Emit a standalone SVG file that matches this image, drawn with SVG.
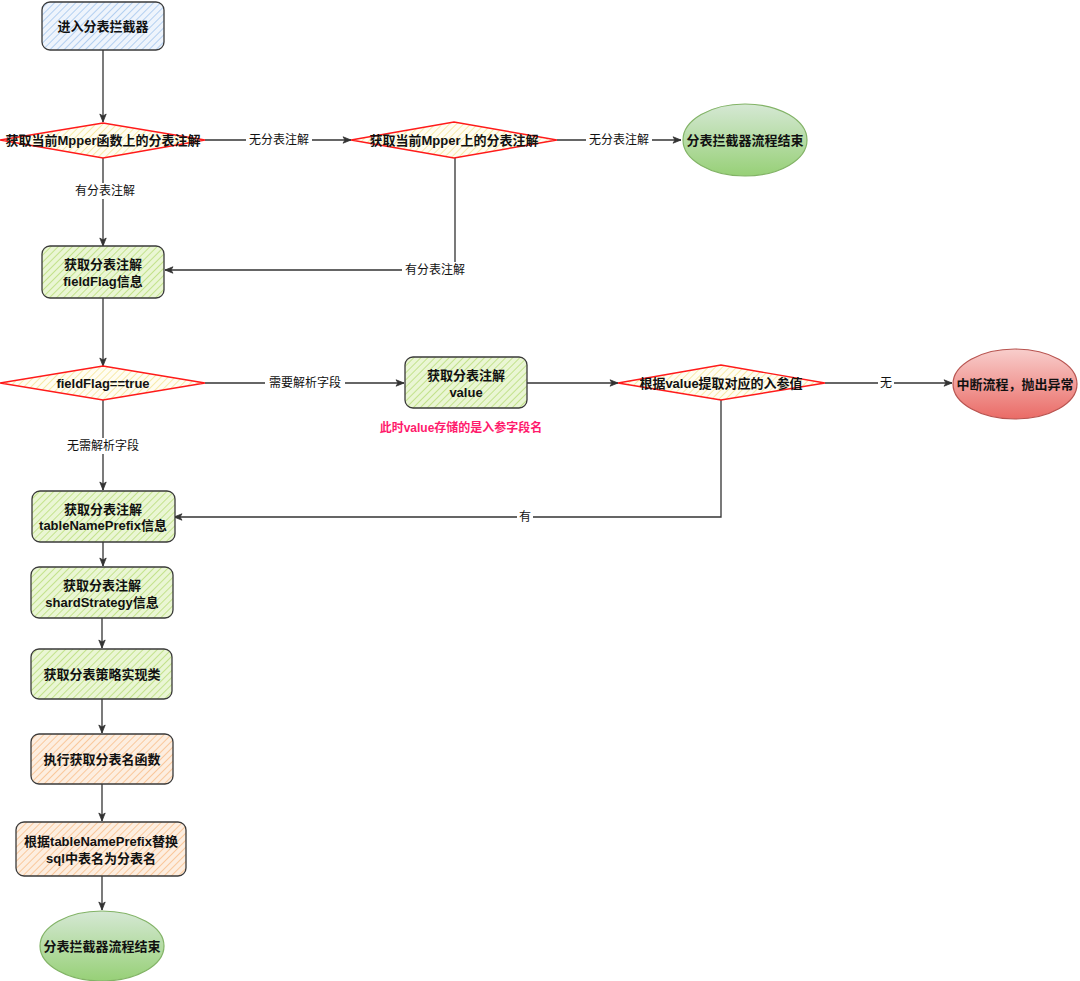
<svg xmlns="http://www.w3.org/2000/svg" width="1080" height="981" viewBox="0 0 1080 981">
<defs>
<pattern id="hBlue" width="5" height="5" patternUnits="userSpaceOnUse" patternTransform="rotate(45)"><rect width="5" height="5" fill="#eef4fc"/><line x1="0" y1="0" x2="0" y2="5" stroke="#b3cff0" stroke-width="2"/></pattern>
<pattern id="hGreen" width="5" height="5" patternUnits="userSpaceOnUse" patternTransform="rotate(45)"><rect width="5" height="5" fill="#eaf6d4"/><line x1="0" y1="0" x2="0" y2="5" stroke="#c3e28c" stroke-width="2"/></pattern>
<pattern id="hYellow" width="5" height="5" patternUnits="userSpaceOnUse" patternTransform="rotate(45)"><rect width="5" height="5" fill="#fffdf2"/><line x1="0" y1="0" x2="0" y2="5" stroke="#f7eaa8" stroke-width="2"/></pattern>
<pattern id="hOrange" width="5" height="5" patternUnits="userSpaceOnUse" patternTransform="rotate(45)"><rect width="5" height="5" fill="#fdeee0"/><line x1="0" y1="0" x2="0" y2="5" stroke="#f9c89c" stroke-width="2"/></pattern>
<linearGradient id="gGreen" x1="0" y1="0" x2="0" y2="1"><stop offset="0" stop-color="#d5e8d4"/><stop offset="1" stop-color="#97d077"/></linearGradient>
<linearGradient id="gRed" x1="0" y1="0" x2="0" y2="1"><stop offset="0" stop-color="#f8cecc"/><stop offset="1" stop-color="#ea6b66"/></linearGradient>
<marker id="arr" markerWidth="10" markerHeight="8" refX="9" refY="4" orient="auto" markerUnits="userSpaceOnUse"><path d="M1,0.8 L9,4 L1,7.2 L3,4 Z" fill="#333333" stroke="#333333" stroke-width="0.8"/></marker>
<style>
.box{stroke:#3a3a3a;stroke-width:1.3}
.dia{stroke:#ff1a1a;stroke-width:1.4}
.t{font-family:"Liberation Sans","Noto Sans CJK SC",sans-serif;font-size:13px;font-weight:bold;fill:#111111;text-anchor:middle;dominant-baseline:central}
.lbl{font-family:"Liberation Sans","Noto Sans CJK SC",sans-serif;font-size:12px;fill:#111111;text-anchor:middle;dominant-baseline:central}
.e{fill:none;stroke:#333333;stroke-width:1.3}
.note{font-family:"Liberation Sans","Noto Sans CJK SC",sans-serif;font-size:12px;font-weight:bold;fill:#ff1a6c;text-anchor:middle;dominant-baseline:central}
</style>
</defs>
<rect width="1080" height="981" fill="#ffffff"/>

<g id="connectors">
<path class="e" d="M103,50 L103,122" marker-end="url(#arr)"/>
<path class="e" d="M205,140 L351,140" marker-end="url(#arr)"/>
<path class="e" d="M557,140 L681,140" marker-end="url(#arr)"/>
<path class="e" d="M103,158 L103,246" marker-end="url(#arr)"/>
<path class="e" d="M455,158 L455,270 L165,270" marker-end="url(#arr)"/>
<path class="e" d="M103,298 L103,366" marker-end="url(#arr)"/>
<path class="e" d="M205,383 L404,383" marker-end="url(#arr)"/>
<path class="e" d="M527,383 L618,383" marker-end="url(#arr)"/>
<path class="e" d="M825,383 L952,383" marker-end="url(#arr)"/>
<path class="e" d="M721,400 L721,517 L174,517" marker-end="url(#arr)"/>
<path class="e" d="M103,400 L103,490" marker-end="url(#arr)"/>
<path class="e" d="M103,542 L103,566" marker-end="url(#arr)"/>
<path class="e" d="M102,618 L102,648" marker-end="url(#arr)"/>
<path class="e" d="M102,699 L102,733" marker-end="url(#arr)"/>
<path class="e" d="M102,784 L102,821" marker-end="url(#arr)"/>
<path class="e" d="M102,876 L102,910" marker-end="url(#arr)"/>
<rect x="246" y="132" width="66" height="16" fill="#ffffff"/>
<text class="lbl" x="279" y="140">无分表注解</text>
<rect x="586" y="132" width="66" height="16" fill="#ffffff"/>
<text class="lbl" x="619" y="140">无分表注解</text>
<rect x="72" y="183" width="66" height="16" fill="#ffffff"/>
<text class="lbl" x="105" y="191">有分表注解</text>
<rect x="402" y="262" width="66" height="16" fill="#ffffff"/>
<text class="lbl" x="435" y="270">有分表注解</text>
<rect x="265" y="375" width="80" height="16" fill="#ffffff"/>
<text class="lbl" x="305" y="383">需要解析字段</text>
<rect x="878" y="375" width="16" height="16" fill="#ffffff"/>
<text class="lbl" x="886" y="383">无</text>
<rect x="517" y="509" width="16" height="16" fill="#ffffff"/>
<text class="lbl" x="525" y="517">有</text>
<rect x="63" y="438" width="80" height="16" fill="#ffffff"/>
<text class="lbl" x="103" y="446">无需解析字段</text>
</g>

<g id="n1"><rect class="box" x="42" y="2" width="122" height="48" rx="8" fill="url(#hBlue)"/><text class="t" x="103" y="26">进入分表拦截器</text></g>
<g id="d1"><polygon class="dia" points="0,140 103,123 205,140 103,158" fill="url(#hYellow)"/><text class="t" x="103" y="140">获取当前Mpper函数上的分表注解</text></g>
<g id="d2"><polygon class="dia" points="351,140 454,122 557,140 454,158" fill="url(#hYellow)"/><text class="t" x="454" y="140">获取当前Mpper上的分表注解</text></g>
<g id="end1"><ellipse cx="745" cy="140" rx="62" ry="36" fill="url(#gGreen)" stroke="#82b366" stroke-width="1.2"/><text class="t" x="745" y="140">分表拦截器流程结束</text></g>
<g id="n3"><rect class="box" x="42" y="246" width="122" height="52" rx="8" fill="url(#hGreen)"/><text class="t" x="103" y="264">获取分表注解</text><text class="t" x="103" y="281">fieldFlag信息</text></g>
<g id="d3"><polygon class="dia" points="0,383 103,366 205,383 103,400" fill="url(#hYellow)"/><text class="t" x="103" y="383">fieldFlag==true</text></g>
<g id="n4"><rect class="box" x="405" y="357" width="122" height="51" rx="8" fill="url(#hGreen)"/><text class="t" x="466" y="375">获取分表注解</text><text class="t" x="466" y="392">value</text></g>
<g id="note"><text class="note" x="461" y="428">此时value存储的是入参字段名</text></g>
<g id="d4"><polygon class="dia" points="618,383 721,365 825,383 721,400" fill="url(#hYellow)"/><text class="t" x="721" y="383">根据value提取对应的入参值</text></g>
<g id="end2"><ellipse cx="1015" cy="384" rx="62" ry="35" fill="url(#gRed)" stroke="#b85450" stroke-width="1.2"/><text class="t" x="1015" y="384">中断流程，抛出异常</text></g>
<g id="n5"><rect class="box" x="32" y="491" width="143" height="51" rx="8" fill="url(#hGreen)"/><text class="t" x="103" y="509">获取分表注解</text><text class="t" x="103" y="525">tableNamePrefix信息</text></g>
<g id="n6"><rect class="box" x="31" y="567" width="142" height="51" rx="8" fill="url(#hGreen)"/><text class="t" x="102" y="585">获取分表注解</text><text class="t" x="102" y="602">shardStrategy信息</text></g>
<g id="n7"><rect class="box" x="31" y="649" width="141" height="50" rx="8" fill="url(#hGreen)"/><text class="t" x="102" y="674">获取分表策略实现类</text></g>
<g id="n8"><rect class="box" x="31" y="734" width="142" height="50" rx="8" fill="url(#hOrange)"/><text class="t" x="102" y="759">执行获取分表名函数</text></g>
<g id="n9"><rect class="box" x="16" y="822" width="170" height="54" rx="8" fill="url(#hOrange)"/><text class="t" x="101" y="841">根据tableNamePrefix替换</text><text class="t" x="101" y="858">sql中表名为分表名</text></g>
<g id="end3"><ellipse cx="102" cy="946" rx="62" ry="35" fill="url(#gGreen)" stroke="#82b366" stroke-width="1.2"/><text class="t" x="102" y="946">分表拦截器流程结束</text></g>
</svg>
